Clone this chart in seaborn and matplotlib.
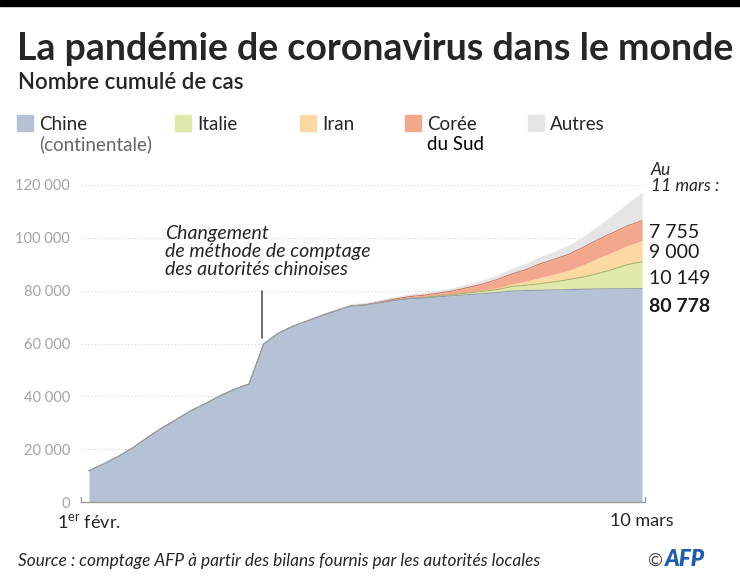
import pandas as pd
import matplotlib
matplotlib.use('Agg')
import matplotlib.pyplot as plt
import seaborn as sns
import numpy as np
from matplotlib.patches import Rectangle
from matplotlib.ticker import FuncFormatter

# Nombre cumulé de cas, du 1er février au 10 mars 2020 (un point par jour)
chine = [11791, 14380, 17205, 20438, 24324, 28018, 31161, 34546, 37198, 40171,
         42638, 44653, 59804, 63851, 66492, 68500, 70548, 72436, 74185, 74576,
         75465, 76288, 76936, 77150, 77658, 78064, 78497, 78824, 79251, 79824,
         80026, 80151, 80270, 80409, 80552, 80651, 80695, 80735, 80754]
italie = [2, 2, 2, 2, 2, 2, 3, 3, 3, 3, 3, 3, 3, 3, 3, 3, 3, 3, 3, 3,
          20, 79, 157, 229, 322, 453, 655, 888, 1128, 1694,
          2036, 2502, 3089, 3858, 4636, 5883, 7375, 9172, 10149]
iran = [0] * 18 + [2, 5, 18, 28, 43, 61, 95, 139, 245, 388, 593, 978,
                   1501, 2336, 2922, 3513, 4747, 5823, 6566, 7161, 8042]
coree = [12, 15, 15, 16, 19, 23, 24, 24, 25, 27, 28, 28, 28, 28, 28, 29, 30, 31,
         51, 104, 204, 433, 602, 833, 977, 1261, 1766, 2337, 3150, 3736,
         4335, 5186, 5621, 6088, 6593, 7041, 7313, 7478, 7513]
autres = [150, 170, 180, 200, 230, 260, 300, 330, 360, 400, 430, 450, 480, 510,
          560, 620, 700, 780, 820, 880, 920, 960, 1000, 1050, 1120, 1230, 1380,
          1550, 1800, 2100, 2400, 2750, 3100, 3500, 4200, 5300, 6800, 8600, 10800]

series = ['Chine', 'Italie', 'Iran', 'Corée du Sud', 'Autres']
legende = [('Chine', '(continentale)'), ('Italie', ''), ('Iran', ''),
           ('Corée', 'du Sud'), ('Autres', '')]
couleurs = ['#b5c1d4', '#e0e8aa', '#fcd9a2', '#f3a88d', '#e5e5e5']
valeurs_11_mars = ['7 755', '9 000', '10 149', '80 778']
date_debut = '1$^{\\mathrm{er}}$ févr.'
date_fin = '10 mars'

df = pd.DataFrame({'jour': np.arange(len(chine)), 'Chine': chine, 'Italie': italie,
                   'Iran': iran, 'Corée du Sud': coree, 'Autres': autres})

sns.set_theme(style="white")
plt.rcParams['font.family'] = ['Lato', 'DejaVu Sans']
plt.rcParams['mathtext.fontset'] = 'custom'
plt.rcParams['mathtext.rm'] = 'Lato'

W, H = 740, 583
fig = plt.figure(figsize=(W / 100, H / 100), dpi=100)
px = lambda x, y: (x / W, 1 - y / H)

ax = fig.add_axes([81 / W, 1 - 502 / H, (645 - 81) / W, (502 - 185) / H])
ax.stackplot(df['jour'], *[df[s] for s in series], colors=couleurs, linewidth=0)

# lignes de bord des couches (Chine en dernier pour rester au-dessus)
cumul = df[series].cumsum(axis=1)
bords = [('Corée du Sud', '#cf7a63'), ('Italie', '#aab571'), ('Chine', '#8e9cb4')]
for s, c in bords:
    sns.lineplot(x=df['jour'], y=cumul[s], ax=ax, color=c, linewidth=0.8)

ax.set_xlim(-0.55, 38.2)
ax.set_ylim(0, 120000)
ax.set_yticks(np.arange(0, 120001, 20000))
ax.yaxis.set_major_formatter(FuncFormatter(lambda v, p: f"{int(v):,}".replace(",", " ")))
ax.tick_params(axis='y', length=0, pad=8, labelsize=10.5, labelcolor='#a3a3a3')
ax.set_xticks([])
for y in np.arange(20000, 120001, 20000):
    ax.axhline(y, color='#d2d2d2', linewidth=0.8, linestyle=(0, (1, 2)), zorder=0)
for sp in ['top', 'right', 'left']:
    ax.spines[sp].set_visible(False)
ax.spines['bottom'].set_color('#9a9a9a')
ax.spines['bottom'].set_linewidth(1)
ax.set_xlabel('')
ax.set_ylabel('')
# petits traits aux extrémités de l'axe
for xe in [-0.55, 38.2]:
    ax.plot([xe, xe], [0, 1800], color='#9a9a9a', linewidth=1, clip_on=False)

ax.text(0, -0.035, date_debut, transform=ax.get_xaxis_transform(), ha='center', va='top',
        fontsize=13)
ax.text(38, -0.035, date_fin, transform=ax.get_xaxis_transform(), ha='center', va='top',
        fontsize=13)

# annotation
ax.plot([11.9, 11.9], [62000, 80000], color='#555555', linewidth=1.2)
fig.text(*px(165, 225), "Changement\nde méthode de comptage\ndes autorités chinoises",
         ha='left', va='top', fontsize=14, style='italic', linespacing=1.08)

# valeurs au 11 mars
fig.text(*px(651, 162), "Au\n11 mars :", ha='left', va='top', fontsize=12.5,
         style='italic', linespacing=1.0)
for v, yy in zip(valeurs_11_mars, [232, 253, 278, 306]):
    fig.text(*px(649, yy), v, ha='left', va='center', fontsize=14,
             fontweight='bold' if v == '80 778' else 'normal', color='#1a1a1a')

# titre
fig.patches.append(Rectangle((0, 1 - 6 / H), 1, 6 / H, transform=fig.transFigure,
                             color='black'))
fig.text(*px(17, 60), "La pandémie de coronavirus dans le monde", ha='left',
         va='baseline', fontsize=27, fontweight='bold')
fig.text(*px(18, 89), "Nombre cumulé de cas", ha='left', va='baseline', fontsize=16,
         fontweight='semibold')

# légende
for (l1, l2), c, x0 in zip(legende, couleurs, [17, 175, 300, 405, 528]):
    fig.patches.append(Rectangle(px(x0, 131), 16 / W, 16 / H, transform=fig.transFigure,
                                 color=c))
    fig.text(*px(x0 + 22, 130), l1, ha='left', va='baseline', fontsize=13.5)
    if l2:
        fig.text(*px(x0 + 22, 150), l2, ha='left', va='baseline', fontsize=13.5,
                 color='#666666' if l1 == 'Chine' else 'black')

# source
fig.text(*px(18, 566), "Source : comptage AFP à partir des bilans fournis par les autorités locales",
         ha='left', va='baseline', fontsize=12.4, style='italic')
fig.text(*px(647, 566), "©", ha='left', va='baseline', fontsize=13, color='#444444')
fig.text(*px(664, 566), "AFP", ha='left', va='baseline', fontsize=16, fontweight='heavy',
         style='italic', color='#1e5db4')

plt.savefig('out.png', dpi=100)
plt.close()
